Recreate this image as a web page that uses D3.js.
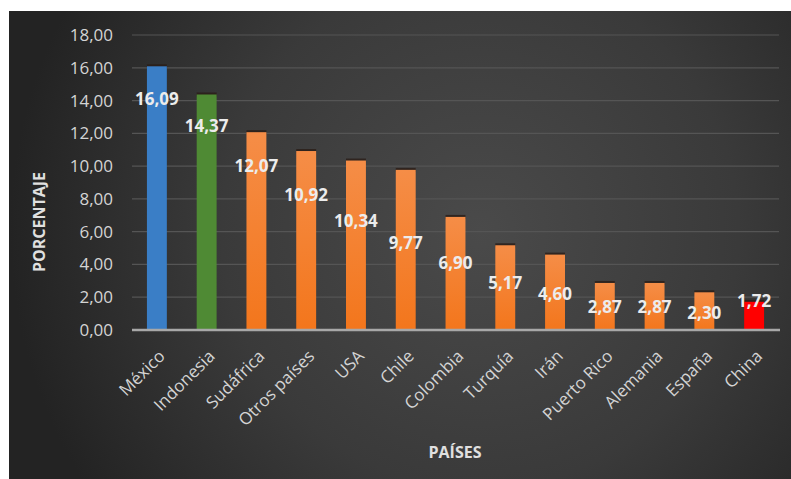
<!DOCTYPE html>
<html><head><meta charset="utf-8">
<script src="https://cdn.jsdelivr.net/npm/d3@7"></script>
<style>html,body{margin:0;padding:0;background:#fff;}svg{display:block;}</style>
</head><body>
<svg id="chart" width="791" height="479"></svg>
<script>
const categories = ["México","Indonesia","Sudáfrica","Otros países","USA","Chile","Colombia","Turquía","Irán","Puerto Rico","Alemania","España","China"];
const values = [16.09,14.37,12.07,10.92,10.34,9.77,6.90,5.17,4.60,2.87,2.87,2.30,1.72];
const yTicks = [0,2,4,6,8,10,12,14,16,18];
const barColors = ["#3a7ec6","#4f8a34","#f47c2a","#f47c2a","#f47c2a","#f47c2a","#f47c2a","#f47c2a","#f47c2a","#f47c2a","#f47c2a","#f47c2a","#ff0000"];
// label placement (pixels below bar top), layout only
const labelOffsets = [33,32,34,44,61,73,46,38,39,24,24,21,-1];

const svg = d3.select("#chart");
const fmt = v => d3.format(".2f")(v).replace(".", ",");

const defs = svg.append("defs");
const rg = defs.append("radialGradient").attr("id","bg").attr("gradientUnits","userSpaceOnUse")
  .attr("cx",480).attr("cy",230).attr("r",470);
rg.append("stop").attr("offset","0%").attr("stop-color","#4a4a4a");
rg.append("stop").attr("offset","55%").attr("stop-color","#3a3a3a");
rg.append("stop").attr("offset","100%").attr("stop-color","#232323");
const og = defs.append("linearGradient").attr("id","og").attr("x1",0).attr("y1",0).attr("x2",0).attr("y2",1);
og.append("stop").attr("offset","0%").attr("stop-color","#f58d47");
og.append("stop").attr("offset","100%").attr("stop-color","#f3761c");

svg.append("rect").attr("x",9).attr("y",11).attr("width",782).attr("height",468).attr("fill","url(#bg)");

const x = d3.scaleBand().domain(categories).range([132,779]).paddingInner(0.6).paddingOuter(0.3);
const y = d3.scaleLinear().domain([0,18]).range([330,35]);

// gridlines
svg.append("g").selectAll("line").data(yTicks.filter(d=>d>0)).join("line")
  .attr("x1",132).attr("x2",779).attr("y1",d=>y(d)).attr("y2",d=>y(d))
  .attr("stroke","#555555").attr("stroke-width",1.2);

// y axis labels
const yAxis = d3.axisLeft(y).tickValues(yTicks).tickFormat(fmt).tickSize(0).tickPadding(0);
const ya = svg.append("g").attr("transform","translate(113,0)").call(yAxis);
ya.select(".domain").remove();
ya.selectAll("text").attr("fill","#d4d4d4").style("font-family","'Open Sans', sans-serif").style("font-size","17px");

// bars shadow
svg.append("g").selectAll("rect").data(values).join("rect")
  .attr("x",(d,i)=>x(categories[i])).attr("width",x.bandwidth())
  .attr("y",d=>y(d)-2).attr("height",4).attr("fill","#2a1d16").attr("opacity",0.8);
// bars
svg.append("g").selectAll("rect").data(values).join("rect")
  .attr("x",(d,i)=>x(categories[i])).attr("width",x.bandwidth())
  .attr("y",d=>y(d)).attr("height",d=>y(0)-y(d))
  .attr("fill",(d,i)=>barColors[i]==="#f47c2a"?"url(#og)":barColors[i]);

// baseline
svg.append("line").attr("x1",132).attr("x2",780).attr("y1",y(0)).attr("y2",y(0))
  .attr("stroke","#a8a8a8").attr("stroke-width",2.5);

// x axis labels
const xAxis = d3.axisBottom(x).tickSize(0).tickPadding(0);
const xa = svg.append("g").attr("transform","translate(0,"+y(0)+")").call(xAxis);
xa.select(".domain").remove();
xa.selectAll("text").attr("fill","#d4d4d4").style("font-family","'Open Sans', sans-serif").style("font-size","17px")
  .attr("text-anchor","end").attr("dy","0.35em")
  .attr("transform","translate(5,23) rotate(-45)");

// data labels
svg.append("g").selectAll("text").data(values).join("text")
  .attr("x",(d,i)=>x(categories[i])+x.bandwidth()/2)
  .attr("y",(d,i)=>y(d)+labelOffsets[i])
  .attr("dy","0.35em").attr("text-anchor","middle")
  .attr("fill","#ececec").style("font-family","'Open Sans', sans-serif").style("font-size","17px").style("font-weight","bold")
  .text(d=>fmt(d));

// axis titles
svg.append("text").attr("transform","translate(39,222) rotate(-90)").attr("text-anchor","middle").attr("dy","0.35em")
  .attr("fill","#e0e0e0").style("font-family","'Open Sans', sans-serif").style("font-size","16px").style("font-weight","bold")
  .text("PORCENTAJE");
svg.append("text").attr("x",455).attr("y",452).attr("text-anchor","middle").attr("dy","0.35em")
  .attr("fill","#e0e0e0").style("font-family","'Open Sans', sans-serif").style("font-size","16px").style("font-weight","bold")
  .text("PAÍSES");
</script>
</body></html>
